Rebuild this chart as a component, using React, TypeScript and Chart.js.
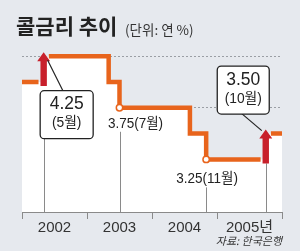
import React, { useEffect, useRef } from 'react';
import { Chart, registerables } from 'chart.js';

Chart.register(...registerables);

// ---- data ----
const YEAR_LABELS = ['2002', '2003', '2004', '2005년'];
const START_RATE = 4.0;
const CHANGE_MONTHS = [4, 16, 18, 31, 34, 45]; // months since Jan 2002
const CHANGE_RATES = [4.25, 4.0, 3.75, 3.5, 3.25, 3.5];
const END_MONTH = 48;
const GRID_RATES = [4.25, 3.75];
const BOX_MONTHS = [4, 45];
const BOX_VALUES = ['4.25', '3.50'];
const BOX_LABELS = ['(5월)', '(10월)'];
const MARK_MONTHS = [18, 34];
const MARK_TEXTS = ['3.75(7월)', '3.25(11월)'];
const TITLE = '콜금리 추이';
const UNIT = '(단위: 연 %)';
const SOURCE = '자료: 한국은행';

// ---- style ----
const BG = '#e6e9ee';
const ORANGE = '#e8641c';
const RED = '#c8202b';
const INK = '#222222';
const GRAY = '#8a8a8a';
const NUM_FONT = '"Liberation Sans", "Noto Sans CJK KR", sans-serif';
const KR_FONT = '"Noto Sans CJK KR", "Liberation Sans", sans-serif';
const RAISE_GAP = 0.95;

function rateAt(month: number): number {
  let r = START_RATE;
  CHANGE_MONTHS.forEach((m, i) => {
    if (m <= month) r = CHANGE_RATES[i];
  });
  return r;
}

function buildFill() {
  const pts: { x: number; y: number }[] = [{ x: 0, y: START_RATE }];
  let prev = START_RATE;
  CHANGE_MONTHS.forEach((m, i) => {
    pts.push({ x: m, y: prev });
    pts.push({ x: m, y: CHANGE_RATES[i] });
    prev = CHANGE_RATES[i];
  });
  pts.push({ x: END_MONTH, y: prev });
  return pts;
}

function buildLine() {
  const pts: { x: number; y: number | null }[] = [{ x: 0, y: START_RATE }];
  let prev = START_RATE;
  CHANGE_MONTHS.forEach((m, i) => {
    const r = CHANGE_RATES[i];
    if (r > prev) {
      pts.push({ x: m - RAISE_GAP, y: prev });
      pts.push({ x: m, y: null });
      pts.push({ x: m + RAISE_GAP, y: r });
    } else {
      pts.push({ x: m, y: prev });
      pts.push({ x: m, y: r });
    }
    prev = r;
  });
  pts.push({ x: END_MONTH, y: prev });
  return pts;
}

function drawText(ctx: CanvasRenderingContext2D, text: string, x: number, y: number, font: string, color: string, align: CanvasTextAlign, sx = 1) {
  ctx.save();
  ctx.font = font;
  ctx.fillStyle = color;
  ctx.textAlign = align;
  ctx.textBaseline = 'middle';
  ctx.translate(x, y);
  ctx.scale(sx, 1);
  ctx.fillText(text, 0, 0);
  ctx.restore();
}

function drawArrow(ctx: CanvasRenderingContext2D, x: number, yFrom: number, yTo: number) {
  const sw = 3.2, hw = 6.5, hh = 9;
  ctx.save();
  ctx.fillStyle = RED;
  ctx.beginPath();
  ctx.moveTo(x - sw, yFrom);
  ctx.lineTo(x - sw, yTo + hh);
  ctx.lineTo(x - hw, yTo + hh);
  ctx.lineTo(x, yTo);
  ctx.lineTo(x + hw, yTo + hh);
  ctx.lineTo(x + sw, yTo + hh);
  ctx.lineTo(x + sw, yFrom);
  ctx.closePath();
  ctx.fill();
  ctx.restore();
}

function vline(ctx: CanvasRenderingContext2D, x: number, y1: number, y2: number, color: string, w = 1) {
  ctx.save();
  ctx.strokeStyle = color;
  ctx.lineWidth = w;
  ctx.beginPath();
  ctx.moveTo(Math.round(x) + 0.5, y1);
  ctx.lineTo(Math.round(x) + 0.5, y2);
  ctx.stroke();
  ctx.restore();
}

function seg(ctx: CanvasRenderingContext2D, x1: number, y1: number, x2: number, y2: number) {
  ctx.save();
  ctx.strokeStyle = INK;
  ctx.lineWidth = 1.2;
  ctx.beginPath();
  ctx.moveTo(x1, y1);
  ctx.lineTo(x2, y2);
  ctx.stroke();
  ctx.restore();
}

// per-callout layout (pixel offsets from anchor)
const BOX_LAYOUT = [
  { dx: -4, dy: 34, w: 53, h: 48, p1: [19, 34], p2: [4, 4], drop: 'box' },
  { dx: -49, dy: -68, w: 52, h: 48, p1: [-24, -20], p2: [-4, -3], drop: 'arrow' },
];
const MARK_LAYOUT = [
  { dx: 16, dy: 16, drop: 24 },
  { dx: 1, dy: 19, drop: 28 },
];

const decorPlugin = {
  id: 'decor',
  beforeDraw(chart: any) {
    const ctx = chart.ctx as CanvasRenderingContext2D;
    ctx.save();
    ctx.fillStyle = BG;
    ctx.fillRect(0, 0, chart.width, chart.height);
    ctx.restore();
    drawText(ctx, TITLE, 16, 26, `bold 21px ${KR_FONT}`, INK, 'left');
    drawText(ctx, UNIT, 125, 30, `13.5px ${KR_FONT}`, '#333', 'left');
  },
  afterDatasetsDraw(chart: any) {
    const ctx = chart.ctx as CanvasRenderingContext2D;
    const xs = chart.scales.x;
    const ys = chart.scales.y;
    const base = ys.bottom;

    // plain marker labels + drop lines
    MARK_MONTHS.forEach((m, i) => {
      const L = MARK_LAYOUT[i];
      const mx = xs.getPixelForValue(m);
      const my = ys.getPixelForValue(rateAt(m));
      vline(ctx, mx, my + L.drop, base, GRAY);
      drawText(ctx, MARK_TEXTS[i], mx + L.dx, my + L.dy, `15px ${NUM_FONT}`, INK, 'center', 0.9);
    });

    // raise arrows + boxes
    BOX_MONTHS.forEach((m, i) => {
      const L = BOX_LAYOUT[i];
      const ax = xs.getPixelForValue(m);
      const newRate = rateAt(m);
      const oldRate = rateAt(m - 0.01);
      const ay = ys.getPixelForValue(newRate);
      const yFrom = ys.getPixelForValue(oldRate) + 4;
      const yTo = ay - 4;
      if (L.drop === 'arrow') vline(ctx, ax, yFrom, base, GRAY);
      drawArrow(ctx, ax, yFrom, yTo);
      const bx = ax + L.dx, by = ay + L.dy;
      if (L.drop === 'box') vline(ctx, ax, by + L.h, base, GRAY);
      seg(ctx, ax + L.p1[0], ay + L.p1[1], ax + L.p2[0], ay + L.p2[1]);
      ctx.save();
      ctx.fillStyle = '#ffffff';
      ctx.strokeStyle = INK;
      ctx.lineWidth = 1.3;
      ctx.beginPath();
      ctx.roundRect(bx + 0.5, by + 0.5, L.w, L.h, 4);
      ctx.fill();
      ctx.stroke();
      ctx.restore();
      drawText(ctx, BOX_VALUES[i], bx + L.w / 2 + 0.5, by + 14, `19px ${NUM_FONT}`, INK, 'center', 0.92);
      drawText(ctx, BOX_LABELS[i], bx + L.w / 2 + 0.5, by + 33, `15px ${NUM_FONT}`, INK, 'center', 0.92);
    });

    drawText(ctx, SOURCE, 282, 241, `italic 11px ${KR_FONT}`, '#333', 'right');
  },
};

export default function App() {
  const ref = useRef<HTMLCanvasElement | null>(null);
  useEffect(() => {
    document.body.style.margin = '0';
    document.body.style.background = BG;
    const canvas = ref.current!;
    const chart = new Chart(canvas, {
      type: 'line',
      data: {
        datasets: [
          {
            data: buildFill(),
            borderWidth: 0,
            pointRadius: 0,
            backgroundColor: '#ffffff',
            fill: 'start',
            order: 3,
          },
          {
            data: buildLine(),
            borderColor: ORANGE,
            borderWidth: 4.5,
            pointRadius: 0,
            fill: false,
            spanGaps: false,
            borderJoinStyle: 'miter',
            borderCapStyle: 'butt',
            order: 2,
          },
          {
            data: MARK_MONTHS.map((m) => ({ x: m, y: rateAt(m) })),
            showLine: false,
            pointRadius: 3.2,
            pointBorderWidth: 1.5,
            pointBackgroundColor: '#ffffff',
            pointBorderColor: ORANGE,
            order: 1,
          },
        ],
      },
      options: {
        animation: false,
        responsive: true,
        maintainAspectRatio: false,
        layout: { padding: { left: 22, right: 18, top: 40, bottom: 14 } },
        plugins: { legend: { display: false }, tooltip: { enabled: false }, title: { display: false } },
        scales: {
          x: {
            type: 'linear',
            min: 0,
            max: END_MONTH,
            afterBuildTicks: (axis: any) => {
              const t = [];
              for (let v = 0; v <= END_MONTH; v += 6) t.push({ value: v });
              axis.ticks = t;
            },
            ticks: {
              autoSkip: false,
              maxRotation: 0,
              padding: 0,
              color: '#333',
              font: { size: 15, family: NUM_FONT },
              callback: (v: any) => (v % 12 === 6 ? YEAR_LABELS[(v - 6) / 12] : ''),
            },
            grid: {
              drawOnChartArea: false,
              tickLength: 7,
              tickColor: (c: any) => (c.tick && c.tick.value % 12 === 0 ? GRAY : 'rgba(0,0,0,0)'),
            },
            border: { color: GRAY, width: 1 },
          },
          y: {
            type: 'linear',
            min: 2.74,
            max: 4.407,
            afterBuildTicks: (axis: any) => {
              axis.ticks = GRID_RATES.map((v) => ({ value: v }));
            },
            ticks: { display: false },
            grid: { drawTicks: false, color: '#9a9ea4', lineWidth: 1 },
            border: { display: false, dash: [2, 2] },
          },
        },
      },
      plugins: [decorPlugin],
    } as any);
    return () => chart.destroy();
  }, []);
  return (
    <div style={{ width: 300, height: 251, position: 'relative' }}>
      <canvas ref={ref} />
    </div>
  );
}
